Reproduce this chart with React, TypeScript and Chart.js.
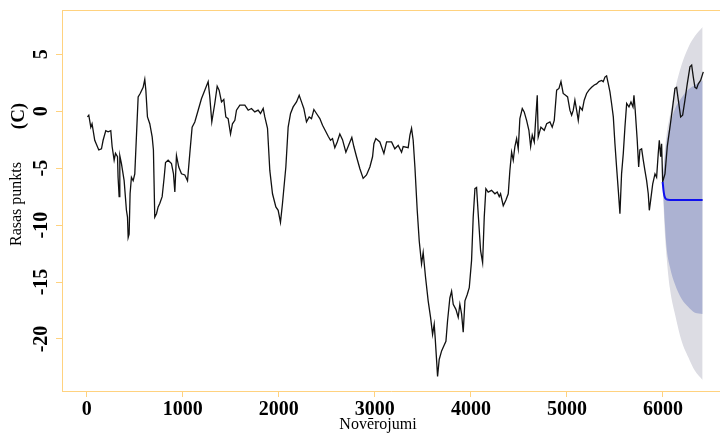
import React, { useEffect, useRef } from "react";
import { Chart, registerables } from "chart.js";

Chart.register(...registerables);

// Observed series (Novērojumi index, dew point °C)
const obsX = [
  7, 21, 42, 55, 83, 125, 153, 170, 198, 222, 250, 264, 285, 299, 320, 326, 337, 344, 361, 389,
  413, 424, 431, 441, 451, 465, 483, 500, 535, 556, 587, 604, 615, 632, 656, 681, 694, 708, 726, 743,
  760, 785, 806, 820, 847, 882, 903, 917, 934, 958, 986, 1021, 1049, 1073, 1097, 1125, 1160, 1194, 1229, 1264,
  1281, 1302, 1333, 1358, 1378, 1403, 1427, 1448, 1472, 1497, 1517, 1542, 1559, 1594, 1646, 1681, 1715, 1750, 1784, 1809,
  1837, 1854, 1882, 1906, 1934, 1969, 1993, 2017, 2038, 2073, 2097, 2122, 2149, 2184, 2212, 2236, 2260, 2288, 2316, 2340,
  2365, 2392, 2427, 2455, 2490, 2514, 2538, 2559, 2583, 2608, 2635, 2663, 2698, 2733, 2760, 2781, 2809, 2844, 2878, 2913,
  2948, 2976, 2990, 3010, 3052, 3094, 3122, 3174, 3208, 3243, 3278, 3295, 3347, 3365, 3382, 3399, 3417, 3441, 3462, 3486,
  3503, 3528, 3555, 3580, 3601, 3618, 3628, 3643, 3653, 3670, 3695, 3719, 3740, 3757, 3781, 3799, 3816, 3844, 3868, 3885,
  3903, 3920, 3938, 3962, 3983, 4007, 4024, 4042, 4059, 4076, 4101, 4122, 4139, 4156, 4180, 4215, 4250, 4274, 4295, 4309,
  4337, 4365, 4389, 4406, 4424, 4441, 4458, 4476, 4493, 4510, 4535, 4555, 4580, 4604, 4622, 4639, 4660, 4674, 4691, 4701,
  4729, 4764, 4789, 4823, 4847, 4868, 4893, 4917, 4938, 4961, 4986, 5007, 5031, 5049, 5066, 5083, 5101, 5118, 5135, 5160,
  5180, 5205, 5229, 5257, 5285, 5309, 5333, 5361, 5378, 5396, 5413, 5431, 5448, 5465, 5483, 5500, 5517, 5535, 5552, 5569,
  5587, 5604, 5622, 5646, 5667, 5688, 5698, 5711, 5732, 5747, 5760, 5778, 5795, 5812, 5830, 5847, 5858, 5872, 5893, 5917,
  5934, 5951, 5962, 5976, 5986, 5997, 6021, 6045, 6073, 6101, 6125, 6142, 6160, 6184, 6205, 6229, 6253, 6281, 6299, 6316,
  6333, 6351, 6368, 6392, 6420,
];
const obsY = [
  -0.5, -0.35, -1.4, -1.1, -2.55, -3.4, -3.3, -2.55, -1.7, -1.8, -1.7, -3.1, -4.3, -3.7, -4.0, -5.8, -7.5, -3.9, -4.6, -6.1,
  -8.7, -9.3, -11.1, -10.8, -7.25, -5.8, -6.1, -5.5, 1.26, 1.56, 2.1, 2.8, 1.85, -0.5, -1.1, -2.26, -3.4, -9.3, -9.0, -8.4,
  -8.1, -7.5, -5.8, -4.5, -4.3, -4.6, -5.5, -7.1, -3.9, -4.9, -5.5, -5.6, -6.1, -3.7, -1.4, -0.95, 0.09, 1.1, 1.85, 2.6,
  1.26, -0.94, 0.68, 2.2, 1.85, 0.82, 1.03, -0.5, -0.65, -2.0, -1.1, -0.8, 0.09, 0.53, 0.53, 0.09, 0.24, -0.06, 0.09, -0.2,
  0.24, -0.5, -1.5, -5.2, -7.25, -8.4, -8.7, -9.75, -8.1, -4.9, -1.4, -0.2, 0.38, 0.82, 1.4, 0.82, 0.24, -0.94, -0.5, -0.65,
  0.15, -0.2, -0.65, -1.23, -1.8, -2.2, -2.55, -2.4, -3.2, -2.7, -2.0, -2.5, -3.6, -2.85, -2.3, -3.1, -4.0, -5.05, -5.9, -5.6,
  -4.9, -4.0, -2.85, -2.4, -2.7, -3.7, -2.7, -2.7, -3.3, -3.0, -3.6, -3.1, -3.2, -2.1, -1.5, -2.55, -4.9, -8.7, -11.4, -13.4,
  -12.4, -14.6, -16.65, -18.1, -19.6, -18.7, -19.9, -21.9, -23.3, -21.8, -21.05, -20.6, -20.2, -18.4, -16.4, -15.8, -16.95, -17.4, -18.1, -16.95,
  -17.8, -19.4, -16.65, -16.1, -15.5, -13.1, -9.3, -6.8, -6.7, -9.0, -12.25, -13.3, -9.3, -6.8, -7.1, -6.95, -7.25, -7.1, -7.5, -7.25,
  -8.3, -7.8, -7.25, -5.2, -3.6, -4.3, -3.1, -2.4, -3.3, -0.65, 0.24, -0.06, -0.8, -1.67, -3.1, -2.1, -2.7, -0.8, 1.4, -2.26,
  -1.4, -1.67, -1.1, -0.94, -1.4, -0.8, 1.85, 2.0, 2.6, 1.56, 1.4, 1.26, 0.09, -0.35, 0.09, 0.97, 0.09, -0.8, 0.38, 0.09,
  0.97, 1.56, 1.85, 2.1, 2.3, 2.4, 2.6, 2.7, 2.6, 3.0, 3.1, 2.4, 1.7, 0.68, -0.5, -2.85, -4.9, -6.95, -9.0, -5.5,
  -3.7, -1.4, 0.68, 0.38, 0.82, 0.38, 1.4, 0.09, -2.55, -4.9, -3.4, -3.3, -4.3, -5.2, -6.1, -7.25, -8.7, -7.8, -6.4, -5.5,
  -5.8, -3.7, -2.55, -4.0, -2.85, -6.2, -5.5, -3.1, -1.4, 0.38, 2.0, 2.1, 0.97, -0.5, -0.35, 0.97, 2.4, 3.9, 4.05, 3.0,
  2.1, 2.0, 2.4, 2.7, 3.46,
];

// Forecast (mean and 80% / 95% intervals)
const fcX = [5997, 6014, 6038, 6073, 6125, 6195, 6264, 6333, 6413];
const fcMeanX = [5997, 6005, 6014, 6025, 6038, 6073, 6413];
const fcMean = [-6.2, -6.9, -7.4, -7.65, -7.75, -7.8, -7.8];
const fcHi80 = [-6.2, -4.6, -2.7, -1.2, 0.2, 1.2, 1.9, 2.3, 2.7];
const fcLo80 = [-6.2, -9.0, -12.0, -13.7, -15.2, -16.5, -17.2, -17.7, -17.8];
const fcHi95 = [-6.2, -4.0, -2.0, -0.35, 1.9, 4.1, 5.6, 6.6, 7.4];
const fcLo95 = [-6.2, -9.8, -12.8, -15.6, -17.8, -20.2, -21.6, -22.8, -23.6];

const xTicks = [0, 1000, 2000, 3000, 4000, 5000, 6000];
const yTicks = [-20, -15, -10, -5, 0, 5];

const FRAME = "#ffd27f";
const SERIF = '"Liberation Serif", "Times New Roman", serif';

const pts = (xs: number[], ys: number[]) => xs.map((x, i) => ({ x, y: ys[i] }));

const framePlugin = {
  id: "frame",
  afterDraw(chart: any) {
    const { ctx, chartArea, scales } = chart;
    ctx.save();
    ctx.strokeStyle = FRAME;
    ctx.lineWidth = 1;
    ctx.beginPath();
    ctx.moveTo(chartArea.left, chartArea.top + 0.5);
    ctx.lineTo(chartArea.right, chartArea.top + 0.5);
    ctx.stroke();

    ctx.fillStyle = "#000";
    ctx.textAlign = "center";
    ctx.textBaseline = "middle";
    ctx.font = `bold 20px ${SERIF}`;
    for (const v of yTicks) {
      const y = scales.y.getPixelForValue(v);
      ctx.save();
      ctx.translate(42, y);
      ctx.rotate(-Math.PI / 2);
      ctx.fillText(String(v), 0, 0);
      ctx.restore();
    }

    ctx.save();
    ctx.translate(17, 204);
    ctx.rotate(-Math.PI / 2);
    ctx.font = `16px ${SERIF}`;
    ctx.fillText("Rasas punkts", 0, 0);
    ctx.restore();

    ctx.save();
    ctx.translate(19, 116);
    ctx.rotate(-Math.PI / 2);
    ctx.font = `bold 19px ${SERIF}`;
    ctx.fillText("(C)", 0, 0);
    ctx.restore();

    ctx.font = `16px ${SERIF}`;
    ctx.fillText("Novērojumi", 378, 425);
    ctx.restore();
  },
};

export default function App() {
  const ref = useRef<HTMLCanvasElement | null>(null);

  useEffect(() => {
    document.body.style.margin = "0";
    document.body.style.overflow = "hidden";
    const canvas = ref.current;
    if (!canvas) return;
    const chart = new Chart(canvas, {
      type: "line",
      data: {
        datasets: [
          {
            label: "Prognoze",
            data: pts(fcMeanX, fcMean),
            borderColor: "#1010ee",
            borderWidth: 2,
            pointRadius: 0,
            fill: false,
            cubicInterpolationMode: "monotone",
          },
          {
            label: "Novērojumi",
            data: pts(obsX, obsY),
            borderColor: "#111111",
            borderWidth: 1.3,
            pointRadius: 0,
            fill: false,
          },
          {
            label: "80% augša",
            data: pts(fcX, fcHi80),
            borderWidth: 0,
            borderColor: "rgba(0,0,0,0)",
            backgroundColor: "rgb(172,178,210)",
            pointRadius: 0,
            fill: "+1",
            cubicInterpolationMode: "monotone",
          },
          {
            label: "80% apakša",
            data: pts(fcX, fcLo80),
            borderWidth: 0,
            borderColor: "rgba(0,0,0,0)",
            pointRadius: 0,
            fill: false,
            cubicInterpolationMode: "monotone",
          },
          {
            label: "95% augša",
            data: pts(fcX, fcHi95),
            borderWidth: 0,
            borderColor: "rgba(0,0,0,0)",
            backgroundColor: "rgb(220,220,227)",
            pointRadius: 0,
            fill: "+1",
            cubicInterpolationMode: "monotone",
          },
          {
            label: "95% apakša",
            data: pts(fcX, fcLo95),
            borderWidth: 0,
            borderColor: "rgba(0,0,0,0)",
            pointRadius: 0,
            fill: false,
            cubicInterpolationMode: "monotone",
          },
        ],
      },
      options: {
        animation: false,
        responsive: false,
        devicePixelRatio: 1,
        layout: { padding: { top: 10, right: 0, left: 0, bottom: 0 } },
        plugins: { legend: { display: false }, tooltip: { enabled: false }, title: { display: false } },
        scales: {
          x: {
            type: "linear",
            min: -258,
            max: 6594,
            afterFit: (s: any) => {
              s.height = 42;
            },
            afterBuildTicks: (s: any) => {
              s.ticks = xTicks.map((v) => ({ value: v }));
            },
            border: { display: true, color: FRAME, width: 1 },
            grid: { drawOnChartArea: false, drawTicks: true, tickLength: 6, color: FRAME },
            ticks: {
              color: "#000",
              padding: 1,
              maxRotation: 0,
              autoSkip: false,
              callback: (v: any) => String(v),
              font: { family: SERIF, size: 20, weight: "bold" },
            },
          },
          y: {
            type: "linear",
            min: -24.57,
            max: 8.89,
            afterFit: (s: any) => {
              s.width = 62;
            },
            afterBuildTicks: (s: any) => {
              s.ticks = yTicks.map((v) => ({ value: v }));
            },
            border: { display: true, color: FRAME, width: 1 },
            grid: { drawOnChartArea: false, drawTicks: true, tickLength: 6, color: FRAME },
            ticks: { display: false },
          },
        },
      },
      plugins: [framePlugin],
    } as any);
    return () => chart.destroy();
  }, []);

  return (
    <div style={{ width: 720, height: 433, position: "relative", background: "#fff" }}>
      <canvas ref={ref} width={720} height={433} style={{ display: "block" }} />
    </div>
  );
}
